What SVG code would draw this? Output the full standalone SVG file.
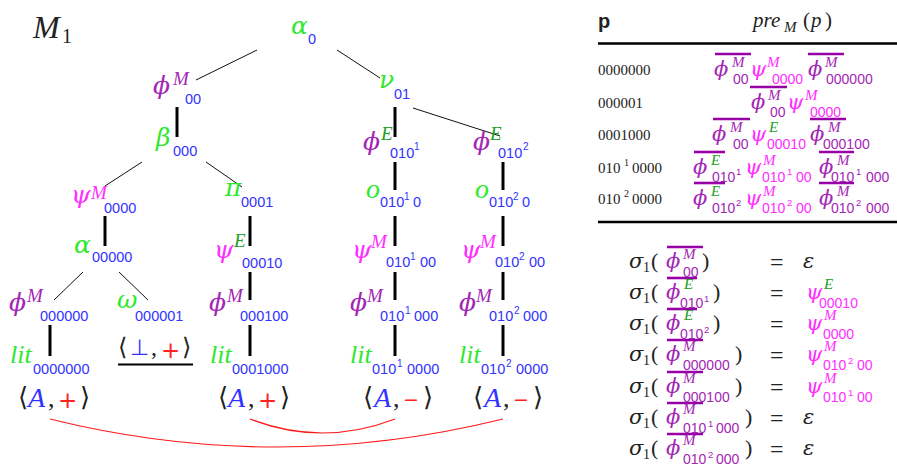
<svg xmlns="http://www.w3.org/2000/svg" width="897" height="470" viewBox="0 0 897 470">
<style>
text{font-family:"Liberation Serif","DejaVu Serif",serif}
.i{font-style:italic}
.gk{font-family:"DejaVu Serif",serif;font-style:italic}
.f{font-family:"Liberation Sans","DejaVu Sans",sans-serif}
.d{font-family:"DejaVu Sans",sans-serif}
.g{fill:#2ee82e}
.b{fill:#3333ff}
.p{fill:#a326b5}
.m{fill:#ff2eff}
.e{fill:#20a020}
.k{fill:#222}
.r{fill:#ff2222}
.T{font-size:25px}
.U{font-size:19px}
.L{font-size:14.5px}
.N{font-size:10px}
.tS{font-size:21px}
.tU{font-size:15px}
.tL{font-size:14px}
.tN{font-size:9.5px}
.thin{stroke:#111;stroke-width:1}
.thick{stroke:#000;stroke-width:3}
.bar{stroke:#9600a6;stroke-width:2.6}
.link{fill:none;stroke:#ff1a1a;stroke-width:1.2}
.rule{stroke:#000;stroke-width:2.5}
</style>
<rect width="897" height="470" fill="#fff"/>

<!-- tree title -->
<g id="title"><text class="i k" x="33" y="38" font-size="32">M</text><text class="k" x="62" y="43" font-size="20">1</text></g>

<!-- connectors -->
<g id="connectors">
  <line class="thin" x1="257" y1="50" x2="196" y2="80"/>
  <line class="thin" x1="337" y1="50" x2="380" y2="78"/>
  <line class="thin" x1="413" y1="108" x2="500" y2="136"/>
  <line class="thin" x1="142" y1="162" x2="105" y2="186"/>
  <line class="thin" x1="206" y1="162" x2="242" y2="187"/>
  <line class="thin" x1="83" y1="272" x2="54" y2="300"/>
  <line class="thin" x1="119" y1="272" x2="148" y2="300"/>
  <line class="thick" x1="177" y1="107" x2="177" y2="137"/>
  <line class="thick" x1="395" y1="107" x2="395" y2="137"/>
  <line class="thick" x1="105" y1="216" x2="105" y2="246"/>
  <line class="thick" x1="250" y1="216" x2="250" y2="246"/>
  <line class="thick" x1="250" y1="272" x2="250" y2="300"/>
  <line class="thick" x1="250" y1="325" x2="250" y2="356"/>
  <line class="thick" x1="50" y1="325" x2="50" y2="356"/>
  <line class="thick" x1="395" y1="162" x2="395" y2="190"/>
  <line class="thick" x1="395" y1="216" x2="395" y2="246"/>
  <line class="thick" x1="395" y1="272" x2="395" y2="300"/>
  <line class="thick" x1="395" y1="325" x2="395" y2="356"/>
  <line class="thick" x1="503" y1="162" x2="503" y2="190"/>
  <line class="thick" x1="503" y1="216" x2="503" y2="246"/>
  <line class="thick" x1="503" y1="272" x2="503" y2="300"/>
  <line class="thick" x1="503" y1="325" x2="503" y2="356"/>
  <path class="link" d="M50,419 Q276,475 503,419"/>
  <path class="link" d="M250,419 Q322,447 395,419"/>
</g>

<!-- tree nodes -->
<g id="n-alpha0"><text class="gk g T" x="291" y="34">α</text><text class="f b L" x="308" y="44">0</text></g>
<g id="n-phi00"><text class="gk p T" x="153" y="94">ϕ</text><text class="i p U" x="173" y="85">M</text><text class="f b L" x="185" y="104">00</text></g>
<g id="n-nu01"><text class="gk g T" x="379" y="88">ν</text><text class="f b L" x="394" y="99">01</text></g>
<g id="n-beta000"><text class="gk g T" x="156" y="146">β</text><text class="f b L" x="173" y="156">000</text></g>
<g id="n-phiE1"><text class="gk p T" x="363" y="150">ϕ</text><text class="i e U" x="381" y="140">E</text><text class="f b L" x="390" y="158">010</text><text class="f b N" x="414" y="150">1</text></g>
<g id="n-phiE2"><text class="gk p T" x="473" y="150">ϕ</text><text class="i e U" x="490" y="140">E</text><text class="f b L" x="498" y="158">010</text><text class="f b N" x="523" y="150">2</text></g>
<g id="n-psi0000"><text class="gk m T" x="71" y="203">ψ</text><text class="i m U" x="91" y="199">M</text><text class="f b L" x="104" y="213">0000</text></g>
<g id="n-pi0001"><text class="gk g T" x="225" y="196">π</text><text class="f b L" x="241" y="207">0001</text></g>
<g id="n-o1"><text class="i g" x="366" y="198" font-size="28">o</text><text class="f b L" x="380" y="207">010</text><text class="f b N" x="404" y="200">1</text><text class="f b L" x="413" y="207">0</text></g>
<g id="n-o2"><text class="i g" x="475" y="198" font-size="28">o</text><text class="f b L" x="489" y="207">010</text><text class="f b N" x="513" y="200">2</text><text class="f b L" x="522" y="207">0</text></g>
<g id="n-alpha00000"><text class="gk g T" x="74" y="253">α</text><text class="f b L" x="92" y="262">00000</text></g>
<g id="n-psiE00010"><text class="gk m T" x="214" y="258">ψ</text><text class="i e U" x="234" y="247">E</text><text class="f b L" x="242" y="268">00010</text></g>
<g id="n-psi1"><text class="gk m T" x="352" y="258">ψ</text><text class="i m U" x="371" y="248">M</text><text class="f b L" x="386" y="267">010</text><text class="f b N" x="410" y="260">1</text><text class="f b L" x="420" y="267">00</text></g>
<g id="n-psi2"><text class="gk m T" x="461" y="258">ψ</text><text class="i m U" x="480" y="248">M</text><text class="f b L" x="495" y="267">010</text><text class="f b N" x="519" y="260">2</text><text class="f b L" x="529" y="267">00</text></g>
<g id="n-phi000000"><text class="gk p T" x="9" y="311">ϕ</text><text class="i p U" x="27" y="302">M</text><text class="f b L" x="40" y="321">000000</text></g>
<g id="n-omega"><text class="gk g T" x="117" y="308">ω</text><text class="f b L" x="135" y="321">000001</text></g>
<g id="n-phi000100"><text class="gk p T" x="209" y="311">ϕ</text><text class="i p U" x="227" y="302">M</text><text class="f b L" x="240" y="321">000100</text></g>
<g id="n-phi1"><text class="gk p T" x="350" y="311">ϕ</text><text class="i p U" x="367" y="302">M</text><text class="f b L" x="380" y="321">010</text><text class="f b N" x="405" y="314">1</text><text class="f b L" x="414" y="321">000</text></g>
<g id="n-phi2"><text class="gk p T" x="459" y="311">ϕ</text><text class="i p U" x="476" y="302">M</text><text class="f b L" x="489" y="321">010</text><text class="f b N" x="514" y="314">2</text><text class="f b L" x="523" y="321">000</text></g>
<g id="n-lit0"><text class="i g" font-size="26" x="10" y="363">lit</text><text class="f b L" x="33" y="374">0000000</text></g>
<g id="n-bottom"><text class="d k" font-size="24" x="118" y="355">⟨</text><text class="d b" font-size="22" x="130" y="355">⊥</text><text class="k" font-size="24" x="151" y="355">,</text><text class="d r" font-size="23" x="161" y="358">+</text><text class="d k" font-size="24" x="182" y="355">⟩</text><line x1="118" y1="364.5" x2="193" y2="364.5" stroke="#000" stroke-width="2"/></g>
<g id="n-lit0001000"><text class="i g" font-size="26" x="210" y="363">lit</text><text class="f b L" x="232" y="374">0001000</text></g>
<g id="n-lit1"><text class="i g" font-size="26" x="350" y="363">lit</text><text class="f b L" x="372" y="374">010</text><text class="f b N" x="397" y="367">1</text><text class="f b L" x="407" y="374">0000</text></g>
<g id="n-lit2"><text class="i g" font-size="26" x="459" y="363">lit</text><text class="f b L" x="481" y="374">010</text><text class="f b N" x="506" y="367">2</text><text class="f b L" x="516" y="374">0000</text></g>
<g id="leaf0"><text class="d k" font-size="26" x="18" y="406">⟨</text><text class="i b" font-size="28" x="28" y="407">A</text><text class="k" font-size="26" x="48" y="407">,</text><text class="d r" font-size="23" x="58" y="408">+</text><text class="d k" font-size="26" x="80" y="406">⟩</text></g>
<g id="leaf1"><text class="d k" font-size="26" x="218" y="406">⟨</text><text class="i b" font-size="28" x="228" y="407">A</text><text class="k" font-size="26" x="248" y="407">,</text><text class="d r" font-size="23" x="258" y="408">+</text><text class="d k" font-size="26" x="280" y="406">⟩</text></g>
<g id="leaf2"><text class="d k" font-size="26" x="363" y="406">⟨</text><text class="i b" font-size="28" x="374" y="407">A</text><text class="k" font-size="26" x="393" y="407">,</text><text class="d r" font-size="19" x="403" y="406">−</text><text class="d k" font-size="26" x="423" y="406">⟩</text></g>
<g id="leaf3"><text class="d k" font-size="26" x="473" y="406">⟨</text><text class="i b" font-size="28" x="484" y="407">A</text><text class="k" font-size="26" x="503" y="407">,</text><text class="d r" font-size="19" x="513" y="406">−</text><text class="d k" font-size="26" x="533" y="406">⟩</text></g>

<!-- prefix table -->
<g id="prefix-table">
  <text class="f k" font-weight="bold" font-size="20" x="598" y="28">p</text>
  <text class="i k" font-size="21" x="753" y="27">pre</text><text class="i k" font-size="15" x="784" y="32">M</text><text class="k" font-size="21" x="803" y="27">(</text><text class="i k" font-size="21" x="811" y="27">p</text><text class="k" font-size="21" x="825" y="27">)</text>
  <line class="rule" x1="598" y1="43.5" x2="897" y2="43.5"/>
  <line class="rule" x1="598" y1="222" x2="897" y2="222"/>

  <g class="f k" font-size="15">
    <text x="598" y="75">0000000</text>
    <text x="598" y="108">000001</text>
    <text x="598" y="140">0001000</text>
    <text x="598" y="173">010</text><text x="624" y="166" font-size="10">1</text><text x="632" y="173">0000</text>
    <text x="598" y="204">010</text><text x="624" y="197" font-size="10">2</text><text x="632" y="204">0000</text>
  </g>

  <g id="bars-prefix">
    <line class="bar" x1="715" y1="54" x2="751" y2="54"/>
    <line class="bar" x1="808" y1="54" x2="844" y2="54"/>
    <line class="bar" x1="750" y1="87" x2="787" y2="87"/>
    <line class="bar" x1="713" y1="119" x2="750" y2="119"/>
    <line class="bar" x1="810" y1="119" x2="846" y2="119"/>
    <line class="bar" x1="694" y1="152" x2="725" y2="152"/>
    <line class="bar" x1="819" y1="152" x2="854" y2="152"/>
    <line class="bar" x1="694" y1="183" x2="725" y2="183"/>
    <line class="bar" x1="819" y1="183" x2="854" y2="183"/>
  </g>

  <g id="row-0000000">
    <text class="gk p tS" x="714" y="76">ϕ</text><text class="i p tU" x="732" y="67">M</text><text class="f p tL" x="733" y="83.5">00</text>
    <text class="gk m tS" x="750" y="76">ψ</text><text class="i m tU" x="767" y="67">M</text><text class="f m tL" x="772" y="83.5">0000</text>
    <text class="gk p tS" x="808" y="76">ϕ</text><text class="i p tU" x="825" y="67">M</text><text class="f p tL" x="826" y="83.5">000000</text>
  </g>
  <g id="row-000001">
    <text class="gk p tS" x="751" y="109">ϕ</text><text class="i p tU" x="768" y="100">M</text><text class="f p tL" x="770" y="116.5">00</text>
    <text class="gk m tS" x="787" y="109">ψ</text><text class="i m tU" x="805" y="100">M</text><text class="f m tL" x="810" y="116.5">0000</text>
  </g>
  <g id="row-0001000">
    <text class="gk p tS" x="712" y="141">ϕ</text><text class="i p tU" x="730" y="132">M</text><text class="f p tL" x="733" y="148.5">00</text>
    <text class="gk m tS" x="750" y="141">ψ</text><text class="i e tU" x="769" y="132">E</text><text class="f m tL" x="767" y="148.5">00010</text>
    <text class="gk p tS" x="810" y="141">ϕ</text><text class="i p tU" x="828" y="132">M</text><text class="f p tL" x="823" y="148.5">000100</text>
  </g>
  <g id="row-0101-0000">
    <text class="gk p tS" x="693" y="174">ϕ</text><text class="i e tU" x="711" y="165">E</text><text class="f p tL" x="712" y="181.5">010</text><text class="f p tN" x="736" y="175">1</text>
    <text class="gk m tS" x="745" y="174">ψ</text><text class="i m tU" x="763" y="165">M</text><text class="f m tL" x="762" y="181.5">010</text><text class="f m tN" x="787" y="175">1</text><text class="f m tL" x="796" y="181.5">00</text>
    <text class="gk p tS" x="819" y="174">ϕ</text><text class="i p tU" x="837" y="165">M</text><text class="f p tL" x="831" y="181.5">010</text><text class="f p tN" x="856" y="175">1</text><text class="f p tL" x="866" y="181.5">000</text>
  </g>
  <g id="row-0102-0000">
    <text class="gk p tS" x="693" y="205">ϕ</text><text class="i e tU" x="711" y="196">E</text><text class="f p tL" x="712" y="212.5">010</text><text class="f p tN" x="736" y="206">2</text>
    <text class="gk m tS" x="745" y="205">ψ</text><text class="i m tU" x="763" y="196">M</text><text class="f m tL" x="762" y="212.5">010</text><text class="f m tN" x="787" y="206">2</text><text class="f m tL" x="796" y="212.5">00</text>
    <text class="gk p tS" x="819" y="205">ϕ</text><text class="i p tU" x="837" y="196">M</text><text class="f p tL" x="831" y="212.5">010</text><text class="f p tN" x="856" y="206">2</text><text class="f p tL" x="866" y="212.5">000</text>
  </g>
</g>

<!-- substitution sigma_1 -->
<g id="sigma-table">
  <g id="bars-sigma">
    <line class="bar" x1="667" y1="247" x2="703" y2="247"/>
    <line class="bar" x1="667" y1="278" x2="697" y2="278"/>
    <line class="bar" x1="667" y1="309" x2="697" y2="309"/>
    <line class="bar" x1="667" y1="340" x2="703" y2="340"/>
    <line class="bar" x1="667" y1="372" x2="703" y2="372"/>
    <line class="bar" x1="667" y1="403" x2="703" y2="403"/>
    <line class="bar" x1="667" y1="434" x2="703" y2="434"/>
  </g>
  <g id="s1">
    <text class="gk k" font-size="21" x="629" y="268">σ</text><text class="k" font-size="14" x="643" y="272">1</text><text class="k" font-size="22" x="651" y="268">(</text>
    <text class="gk p tS" x="666" y="268">ϕ</text><text class="i p tU" x="683" y="259">M</text><text class="f p tL" x="683" y="277">00</text><text class="k" font-size="22" x="702" y="268">)</text>
    <text class="k" font-size="24" x="770" y="270">=</text><text class="gk k" font-size="21" x="803" y="268">ε</text>
  </g>
  <g id="s2">
    <text class="gk k" font-size="21" x="629" y="299">σ</text><text class="k" font-size="14" x="643" y="303">1</text><text class="k" font-size="22" x="651" y="299">(</text>
    <text class="gk p tS" x="666" y="299">ϕ</text><text class="i e tU" x="684" y="289">E</text><text class="f p tL" x="680" y="308">010</text><text class="f p tN" x="704" y="302">1</text><text class="k" font-size="22" x="713" y="299">)</text>
    <text class="k" font-size="24" x="770" y="301">=</text>
    <text class="gk m tS" x="806" y="299">ψ</text><text class="i e tU" x="824" y="289">E</text><text class="f m tL" x="819" y="308">00010</text>
  </g>
  <g id="s3">
    <text class="gk k" font-size="21" x="629" y="330">σ</text><text class="k" font-size="14" x="643" y="334">1</text><text class="k" font-size="22" x="651" y="330">(</text>
    <text class="gk p tS" x="666" y="330">ϕ</text><text class="i e tU" x="684" y="320">E</text><text class="f p tL" x="680" y="339">010</text><text class="f p tN" x="704" y="333">2</text><text class="k" font-size="22" x="713" y="330">)</text>
    <text class="k" font-size="24" x="770" y="332">=</text>
    <text class="gk m tS" x="806" y="330">ψ</text><text class="i m tU" x="824" y="320">M</text><text class="f m tL" x="823" y="339">0000</text>
  </g>
  <g id="s4">
    <text class="gk k" font-size="21" x="629" y="361">σ</text><text class="k" font-size="14" x="643" y="365">1</text><text class="k" font-size="22" x="651" y="361">(</text>
    <text class="gk p tS" x="666" y="361">ϕ</text><text class="i p tU" x="683" y="351">M</text><text class="f p tL" x="683" y="370">000000</text><text class="k" font-size="22" x="735" y="361">)</text>
    <text class="k" font-size="24" x="770" y="363">=</text>
    <text class="gk m tS" x="806" y="361">ψ</text><text class="i m tU" x="824" y="351">M</text><text class="f m tL" x="823" y="370">010</text><text class="f m tN" x="848" y="364">2</text><text class="f m tL" x="857" y="370">00</text>
  </g>
  <g id="s5">
    <text class="gk k" font-size="21" x="629" y="393">σ</text><text class="k" font-size="14" x="643" y="397">1</text><text class="k" font-size="22" x="651" y="393">(</text>
    <text class="gk p tS" x="666" y="393">ϕ</text><text class="i p tU" x="683" y="383">M</text><text class="f p tL" x="683" y="402">000100</text><text class="k" font-size="22" x="735" y="393">)</text>
    <text class="k" font-size="24" x="770" y="395">=</text>
    <text class="gk m tS" x="806" y="393">ψ</text><text class="i m tU" x="824" y="383">M</text><text class="f m tL" x="823" y="402">010</text><text class="f m tN" x="848" y="396">1</text><text class="f m tL" x="857" y="402">00</text>
  </g>
  <g id="s6">
    <text class="gk k" font-size="21" x="629" y="424">σ</text><text class="k" font-size="14" x="643" y="428">1</text><text class="k" font-size="22" x="651" y="424">(</text>
    <text class="gk p tS" x="666" y="424">ϕ</text><text class="i p tU" x="683" y="414">M</text><text class="f p tL" x="683" y="433">010</text><text class="f p tN" x="708" y="427">1</text><text class="f p tL" x="716" y="433">000</text><text class="k" font-size="22" x="745" y="424">)</text>
    <text class="k" font-size="24" x="770" y="426">=</text><text class="gk k" font-size="21" x="803" y="424">ε</text>
  </g>
  <g id="s7">
    <text class="gk k" font-size="21" x="629" y="455">σ</text><text class="k" font-size="14" x="643" y="459">1</text><text class="k" font-size="22" x="651" y="455">(</text>
    <text class="gk p tS" x="666" y="455">ϕ</text><text class="i p tU" x="683" y="445">M</text><text class="f p tL" x="683" y="464">010</text><text class="f p tN" x="708" y="458">2</text><text class="f p tL" x="716" y="464">000</text><text class="k" font-size="22" x="745" y="455">)</text>
    <text class="k" font-size="24" x="770" y="457">=</text><text class="gk k" font-size="21" x="803" y="455">ε</text>
  </g>
</g>
</svg>
